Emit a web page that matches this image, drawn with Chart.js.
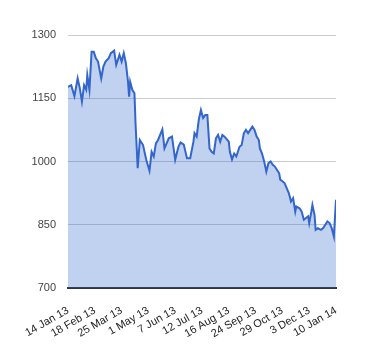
<!DOCTYPE html>
<html>
<head>
<meta charset="utf-8">
<script src="https://cdn.jsdelivr.net/npm/chart.js@4"></script>
<style>
    html, body { margin: 0; padding: 0; background: #fff; }
    #wrap { width: 380px; height: 360px; position: relative; }
</style>
</head>
<body>
<div id="wrap"><canvas id="chart"></canvas></div>
<script>
// trading-day index (0 = 14 Jan 13) and closing value
const dayIndex = [
    0, 3, 6, 9, 11, 13, 15, 17, 18, 20, 22, 24, 26, 28, 31, 33, 35, 38, 40, 43,
    45, 48, 50, 52, 54, 56, 57, 58, 60, 62, 63, 65, 67, 70, 73, 76, 78, 80, 82, 84,
    88, 90, 94, 97, 100, 103, 105, 108, 111, 114, 117, 118, 120, 122, 124, 126, 128, 130, 132, 134,
    136, 138, 140, 142, 144, 146, 150, 151, 153, 155, 157, 160, 162, 164, 166, 168, 170, 172, 174, 176,
    178, 179, 181, 183, 185, 187, 189, 191, 193, 195, 197, 198, 200, 202, 204, 206, 208, 210, 212, 213,
    216, 218, 220, 222, 224, 225, 227, 228, 230, 231, 233, 236, 238, 240, 242, 244, 246, 248, 250
];
const closeValues = [
    1177, 1181, 1155, 1197, 1174, 1142, 1181, 1170, 1205, 1170, 1260, 1260, 1245, 1237, 1197, 1225, 1237, 1245, 1257, 1263,
    1229, 1253, 1237, 1257, 1233, 1189, 1154, 1189, 1170, 1162, 1090, 984, 1051, 1039, 1004, 978, 1023, 1012, 1043, 1051,
    1076, 1031, 1055, 1059, 1004, 1035, 1045, 1040, 1008, 1008, 1047, 1067, 1059, 1099, 1122, 1103, 1110, 1110, 1031, 1023,
    1019, 1055, 1063, 1047, 1063, 1059, 1047, 1023, 1005, 1019, 1012, 1035, 1039, 1067, 1075, 1067, 1075, 1083, 1075, 1059,
    1051, 1031, 1019, 1000, 976, 996, 1000, 992, 988, 980, 972, 957, 953, 949, 937, 925, 905, 913, 881, 893,
    889, 881, 862, 866, 870, 854, 881, 897, 873, 838, 842, 838, 842, 850, 858, 854, 842, 822, 909
];
// one label every 25 trading days
const tickLabels = [
    '14 Jan 13', '18 Feb 13', '25 Mar 13', '1 May 13', '7 Jun 13', '12 Jul 13',
    '16 Aug 13', '24 Sep 13', '29 Oct 13', '3 Dec 13', '10 Jan 14'
];
const yTicks = [700, 850, 1000, 1150, 1300];

const points = dayIndex.map(function (d, i) { return { x: d, y: closeValues[i] }; });

const ctx = document.getElementById('chart');
new Chart(ctx, {
    type: 'line',
    data: {
        datasets: [{
            data: points,
            borderColor: '#3366cc',
            backgroundColor: 'rgba(51, 102, 204, 0.3)',
            borderWidth: 2,
            pointRadius: 0,
            tension: 0,
            fill: 'start'
        }]
    },
    options: {
        responsive: true,
        maintainAspectRatio: false,
        animation: false,
        layout: { padding: { left: 0, right: 44, top: 35, bottom: 0 } },
        plugins: {
            legend: { display: false },
            tooltip: { enabled: false }
        },
        scales: {
            x: {
                type: 'linear',
                min: 0,
                max: (tickLabels.length - 1) * 25,
                afterBuildTicks: function (scale) {
                    scale.ticks = tickLabels.map(function (_, i) { return { value: i * 25 }; });
                },
                afterFit: function (scale) { scale.height = 72; },
                ticks: {
                    autoSkip: false,
                    maxRotation: 30,
                    minRotation: 30,
                    padding: 8,
                    color: '#222',
                    font: { family: '"Liberation Sans", Arial, sans-serif', size: 11 },
                    callback: function (value) { return tickLabels[Math.round(value / 25)]; }
                },
                grid: { display: false },
                border: { display: true, color: '#333', width: 2 }
            },
            y: {
                min: yTicks[0],
                max: yTicks[yTicks.length - 1],
                afterBuildTicks: function (scale) {
                    scale.ticks = yTicks.map(function (v) { return { value: v }; });
                },
                afterFit: function (scale) { scale.width = 68; },
                ticks: {
                    padding: 12,
                    color: '#444',
                    font: { family: '"Liberation Sans", Arial, sans-serif', size: 11 },
                    callback: function (value) { return String(value); }
                },
                grid: { color: '#cccccc', drawTicks: false },
                border: { display: false }
            }
        }
    }
});
</script>
</body>
</html>
